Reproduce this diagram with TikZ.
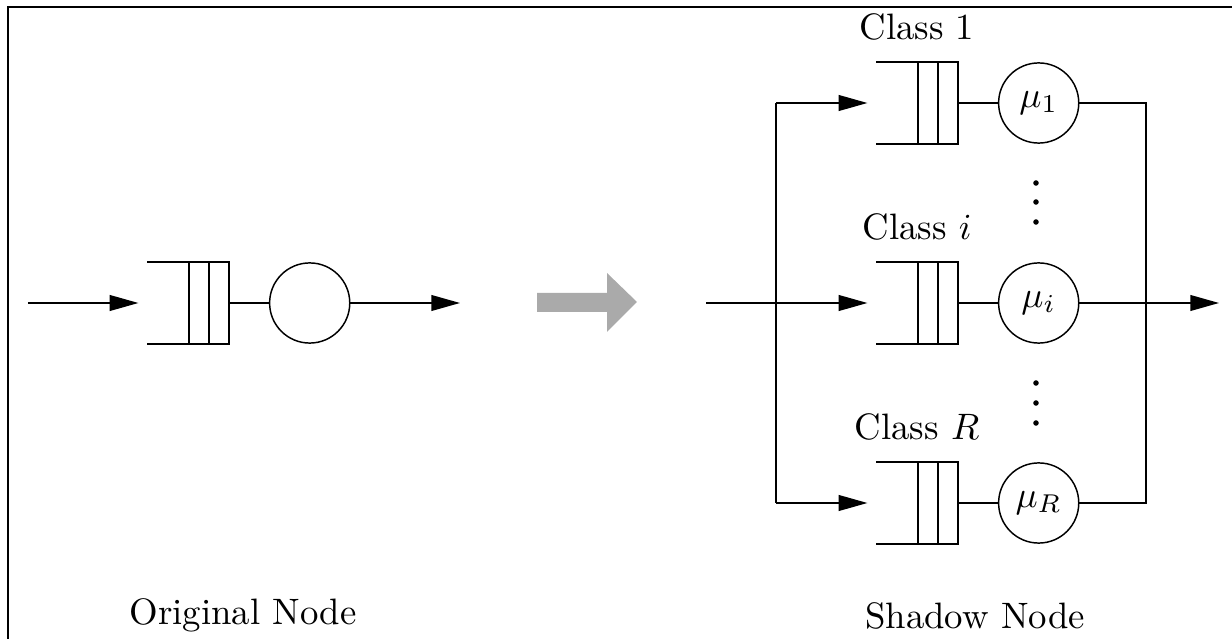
\documentclass[tikz,border=0pt]{standalone}
\usepackage{amsmath,amssymb}
\usepackage{tikz}
\usetikzlibrary{arrows.meta, positioning, calc}
\definecolor{shadowgrey}{RGB}{170,170,170}
% open-ended buffer with two slots, drawn round a buf node
\newcommand{\drawbuf}[1]{%
  \draw (#1.north west) -- (#1.north east) -- (#1.south east) -- (#1.south west);
  \draw ($(#1.north east)+(-20,0)$) -- ($(#1.south east)+(-20,0)$);
  \draw ($(#1.north east)+(-40,0)$) -- ($(#1.south east)+(-40,0)$);}

\begin{document}
\begin{tikzpicture}[x=0.272pt, y=-0.272pt,
      buf/.style={rectangle, inner sep=0pt, minimum width=21.8pt, minimum height=21.8pt},
      srv/.style={circle, draw, inner sep=0pt, minimum size=21.8pt},
      arr/.style={-{Triangle[length=7.8pt, width=4.3pt]}, shorten >=2.4pt}]
    \useasboundingbox (0,0) rectangle (1232,639);
    \clip (0,0) rectangle (1232,639);
    \draw[line width=0.55pt] (8,7) rectangle (1260,670);
    % original node
    \coordinate (in0) at (28,303); \coordinate (out0) at (460,303);
    \node[buf] (q0) at (188,303) {}; \node[srv, right=10.9pt of q0] (s0) {};
    \drawbuf{q0}
    \draw[arr] (in0) -- (q0.west); \draw (q0.east) -- (s0.west);
    \draw[arr, shorten >=0pt] (s0.east) -- (out0);
    \node at (243,615) {Original Node};
    % transformation
    \fill[shadowgrey] (537,293) -- (607,293) -- (607,273) -- (637,302)
      -- (607,332) -- (607,312) -- (537,312) -- cycle;
    % shadow node
    \coordinate (in1) at (706,303); \coordinate (fork) at (776,303);
    \coordinate (join) at (1146,303); \coordinate (out1) at (1219,303);
    \node[buf] (q1) at (917,103) {}; \node[srv, right=10.9pt of q1] (s1) {$\mu_1$};
    \node[buf] (qi) at (917,303) {}; \node[srv, right=10.9pt of qi] (si) {$\mu_i$};
    \node[buf] (qR) at (917,503) {}; \node[srv, right=10.9pt of qR] (sR) {$\mu_R$};
    \foreach \q in {q1,qi,qR} {\drawbuf{\q}}
    \node[above=2.5pt of q1] {Class 1};
    \node[above=2.5pt of qi] {Class $i$};
    \node[above=2.5pt of qR] {Class $R$};
    \draw (fork |- q1) -- (fork |- qR);
    \draw[arr] (in1) -- (qi.west);
    \draw[arr] (fork |- q1) -- (q1.west); \draw[arr] (fork |- qR) -- (qR.west);
    \draw (q1.east) -- (s1.west); \draw (qi.east) -- (si.west); \draw (qR.east) -- (sR.west);
    \draw (s1.east) -- (s1.east -| join) -- (sR.east -| join) -- (sR.east);
    \draw[arr, shorten >=0pt] (si.east) -- (out1);
    \foreach \y in {183,202,222,383,403,423} \fill (1036,\y) circle (0.75pt);
    \node at (975,616) {Shadow Node};
\end{tikzpicture}
\end{document}
